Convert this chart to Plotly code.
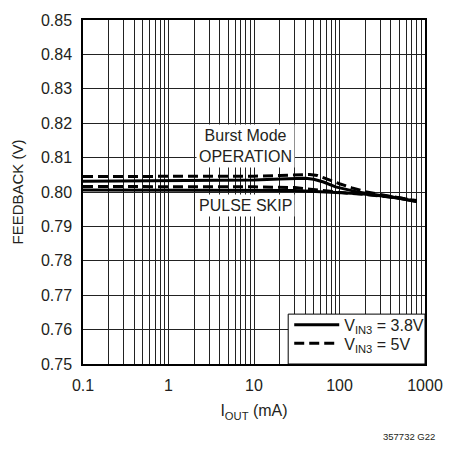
import plotly.graph_objects as go

# Load current (mA) and feedback voltage (V) for each operating mode / input voltage
iout_burst_38 = [0.1, 1, 10, 20, 30, 40, 50, 65, 90, 130, 170, 250, 400, 800]
fb_burst_38 = [0.8031, 0.8032, 0.8035, 0.8038, 0.8040, 0.8040, 0.8037, 0.8029,
               0.8015, 0.8005, 0.7999, 0.7993, 0.7986, 0.7972]

iout_burst_5 = [0.1, 1, 10, 20, 30, 45, 55, 70, 100, 140, 200, 300, 500, 800]
fb_burst_5 = [0.8045, 0.8045, 0.8046, 0.8048, 0.8050, 0.8051, 0.8048, 0.8038,
              0.8024, 0.8012, 0.8001, 0.7993, 0.7984, 0.7974]

iout_skip_38 = [0.1, 1, 10, 30, 60, 100, 180, 300, 500, 800]
fb_skip_38 = [0.8006, 0.8006, 0.8005, 0.8004, 0.8001, 0.7998, 0.7995, 0.7989,
              0.7982, 0.7972]

iout_skip_5 = [0.1, 1, 10, 30, 50, 80, 120, 200, 300, 500, 800]
fb_skip_5 = [0.8016, 0.8016, 0.8015, 0.8013, 0.8007, 0.8000, 0.7997, 0.7993,
             0.7989, 0.7983, 0.7975]

legend_labels = ["V<sub>IN3</sub> = 3.8V", "V<sub>IN3</sub> = 5V"]

# Axis ticks: gridline at every 1..9 multiple, labels only on decades
x_mult = [m for e in range(-1, 3) for m in range(1, 10)] + [1]
x_tickvals = [m * 10 ** e for e in range(-1, 3) for m in range(1, 10)] + [1000]
x_ticktext = [("%g" % v) if m == 1 else "" for v, m in zip(x_tickvals, x_mult)]
y_tickvals = [0.75 + 0.01 * i for i in range(11)]
y_ticktext = ["%.2f" % v for v in y_tickvals]

INK = "#231f20"
GRID = "#222222"
FONT = "Liberation Sans, Arial, sans-serif"
DASH = "10px,5px"

fig = go.Figure()
fig.add_trace(go.Scatter(x=iout_burst_38, y=fb_burst_38, mode="lines",
                         line=dict(color="black", width=3),
                         name=legend_labels[0], legend="legend"))
fig.add_trace(go.Scatter(x=iout_skip_38, y=fb_skip_38, mode="lines",
                         line=dict(color="black", width=3),
                         name=legend_labels[0], showlegend=False))
fig.add_trace(go.Scatter(x=iout_burst_5, y=fb_burst_5, mode="lines",
                         line=dict(color="black", width=3, dash=DASH),
                         name=legend_labels[1], legend="legend2"))
fig.add_trace(go.Scatter(x=iout_skip_5, y=fb_skip_5, mode="lines",
                         line=dict(color="black", width=3, dash=DASH),
                         name=legend_labels[1], showlegend=False))

# White legend panel covering the grid in the lower-right corner
fig.add_shape(type="rect", xref="paper", yref="paper",
              x0=0.6, x1=1.0, y0=0.0, y1=0.145, layer="above",
              fillcolor="white", line=dict(color="black", width=1))

fig.add_annotation(x=0.903, y=0.8135, xref="x", yref="y",
                   text="Burst Mode<br>OPERATION", showarrow=False,
                   bgcolor="white", borderpad=2,
                   font=dict(family=FONT, size=16, color=INK))
fig.add_annotation(x=0.903, y=0.7962, xref="x", yref="y",
                   text="PULSE SKIP", showarrow=False,
                   bgcolor="white", borderpad=2,
                   font=dict(family=FONT, size=16, color=INK))
fig.add_annotation(x=1.035, y=-0.21, xref="paper", yref="paper",
                   xanchor="right", yanchor="middle",
                   text="357732 G22", showarrow=False,
                   font=dict(family=FONT, size=9.5, color=INK))

fig.update_xaxes(type="log", range=[-1, 3],
                 tickvals=x_tickvals, ticktext=x_ticktext,
                 ticks="", ticklabelstandoff=6,
                 showgrid=True, gridcolor=GRID, gridwidth=1,
                 showline=True, linecolor="black", linewidth=1.5, mirror=True,
                 zeroline=False,
                 tickfont=dict(family=FONT, size=16, color=INK),
                 title=dict(text="I<sub>OUT</sub> (mA)", standoff=12,
                            font=dict(family=FONT, size=16, color=INK)))
fig.update_yaxes(range=[0.75, 0.85],
                 tickvals=y_tickvals, ticktext=y_ticktext,
                 ticks="", ticklabelstandoff=6,
                 showgrid=True, gridcolor=GRID, gridwidth=1,
                 showline=True, linecolor="black", linewidth=1.5, mirror=True,
                 zeroline=False,
                 tickfont=dict(family=FONT, size=16, color=INK),
                 title=dict(text="FEEDBACK (V)", standoff=14,
                            font=dict(family=FONT, size=15, color=INK)))

legend_style = dict(xanchor="left", yanchor="middle", itemwidth=45,
                    bgcolor="rgba(0,0,0,0)", borderwidth=0,
                    font=dict(family=FONT, size=16, color=INK))
fig.update_layout(
    width=455, height=453,
    margin=dict(l=83, r=20, t=13, b=89),
    plot_bgcolor="white", paper_bgcolor="white",
    font=dict(family=FONT, color=INK),
    legend=dict(x=0.603, y=0.114, **legend_style),
    legend2=dict(x=0.603, y=0.060, **legend_style),
)

fig.write_html("out.html")
